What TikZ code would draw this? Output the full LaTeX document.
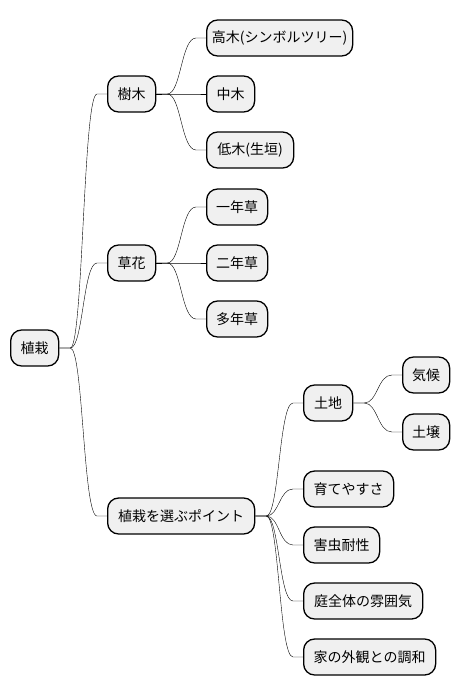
\documentclass[tikz,border=0pt]{standalone}
\usepackage{fontspec}
\setmainfont{Noto Sans CJK JP}
\usetikzlibrary{calc}
\tikzset{
  mmbox/.style={draw=black, line width=1.3pt, fill=black!6, rounded corners=11pt,
    minimum height=36pt, inner xsep=4pt, inner ysep=0pt, anchor=west,
    font=\fontsize{14pt}{16pt}\selectfont},
  mmedge/.style={line width=0.9pt, to path={let \p1=(\tikztostart), \p2=(\tikztotarget) in
    -- (\x1+11pt,\y1) .. controls ({0.5*\x1+0.5*\x2},\y1) and ({0.5*\x1+0.5*\x2},\y2) .. (\x2-10pt,\y2) -- (\x2,\y2)}}
}
\begin{document}
\begin{tikzpicture}[x=1pt,y=-1pt]
\useasboundingbox (0,0) rectangle (460,696);
\node[mmbox, minimum width=48pt] (root) at (10,348) {植栽};
\node[mmbox, minimum width=48pt] (jumoku) at (107,94) {樹木};
\node[mmbox, minimum width=146pt] (koboku) at (206,38) {高木(シンボルツリー)};
\node[mmbox, minimum width=48pt] (chuboku) at (206,94) {中木};
\node[mmbox, minimum width=87pt] (teiboku) at (206,150) {低木(生垣)};
\node[mmbox, minimum width=48pt] (kusabana) at (107,263) {草花};
\node[mmbox, minimum width=61pt] (ichinen) at (206,207) {一年草};
\node[mmbox, minimum width=61pt] (ninen) at (206,263) {二年草};
\node[mmbox, minimum width=61pt] (tanen) at (206,319) {多年草};
\node[mmbox, minimum width=147pt] (point) at (107,516) {植栽を選ぶポイント};
\node[mmbox, minimum width=49pt] (tochi) at (303,403) {土地};
\node[mmbox, minimum width=47pt] (kiko) at (402,375) {気候};
\node[mmbox, minimum width=47pt] (dojo) at (402,432) {土壌};
\node[mmbox, minimum width=90pt] (sodate) at (303,489) {育てやすさ};
\node[mmbox, minimum width=76pt] (gaichu) at (303,545) {害虫耐性};
\node[mmbox, minimum width=119pt] (niwa) at (303,601) {庭全体の雰囲気};
\node[mmbox, minimum width=132pt] (ie) at (303,657) {家の外観との調和};

\draw (root.east) to[mmedge] (jumoku.west);
\draw (root.east) to[mmedge] (kusabana.west);
\draw (root.east) to[mmedge] (point.west);
\draw (jumoku.east) to[mmedge] (koboku.west);
\draw (jumoku.east) to[mmedge] (chuboku.west);
\draw (jumoku.east) to[mmedge] (teiboku.west);
\draw (kusabana.east) to[mmedge] (ichinen.west);
\draw (kusabana.east) to[mmedge] (ninen.west);
\draw (kusabana.east) to[mmedge] (tanen.west);
\draw (point.east) to[mmedge] (tochi.west);
\draw (point.east) to[mmedge] (sodate.west);
\draw (point.east) to[mmedge] (gaichu.west);
\draw (point.east) to[mmedge] (niwa.west);
\draw (point.east) to[mmedge] (ie.west);
\draw (tochi.east) to[mmedge] (kiko.west);
\draw (tochi.east) to[mmedge] (dojo.west);
\end{tikzpicture}
\end{document}
